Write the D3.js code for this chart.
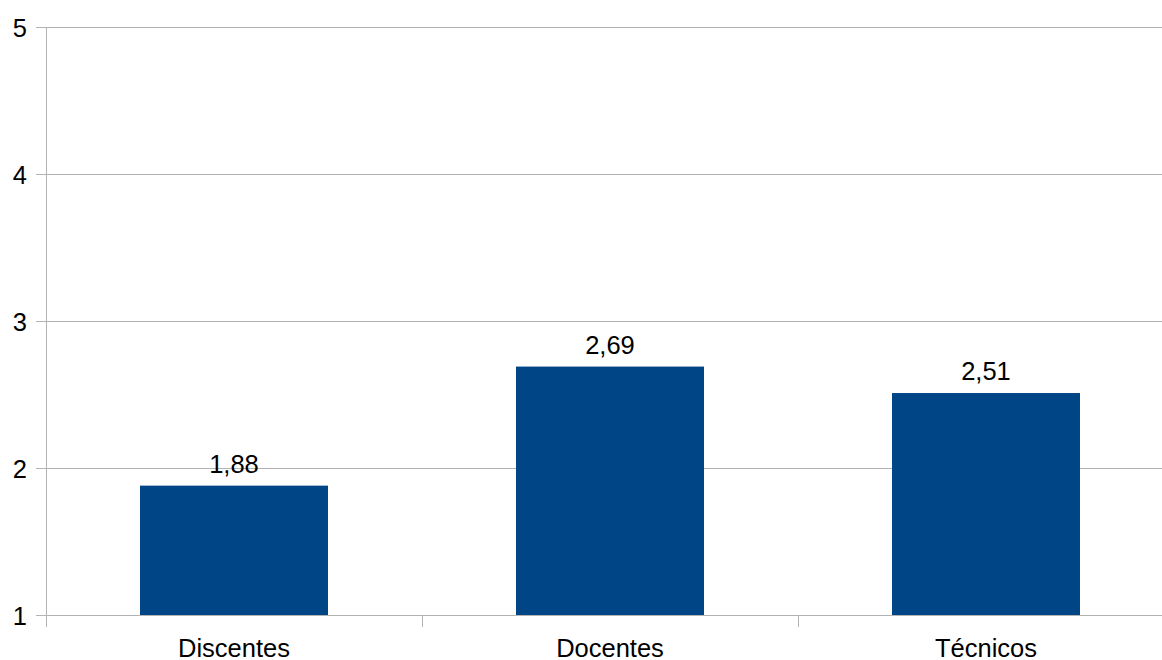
<!DOCTYPE html>
<html>
<head>
<meta charset="utf-8">
<script src="https://cdn.jsdelivr.net/npm/d3@7"></script>
<style>
  html, body { margin: 0; padding: 0; background: #fff; }
  svg { display: block; font-family: "Liberation Sans", Arial, sans-serif; }
</style>
</head>
<body>
<svg id="chart" width="1162" height="660"></svg>
<script>
// Mean score per group
const categories = ["Discentes", "Docentes", "Técnicos"];
const values = [1.88, 2.69, 2.51];
const yTicks = [1, 2, 3, 4, 5];

const svg = d3.select("#chart");
const plotLeft = 46, plotRight = 1174, plotTop = 27, plotBottom = 615;
const fontSize = 25.5;

const x = d3.scaleBand().domain(categories).range([plotLeft, plotRight]).paddingInner(0).paddingOuter(0);
const y = d3.scaleLinear().domain([1, 5]).range([plotBottom, plotTop]);

const fmt = v => d3.format(".2f")(v).replace(".", ",");

// Horizontal gridlines with short outer ticks
svg.append("g")
  .selectAll("line")
  .data(yTicks)
  .join("line")
  .attr("x1", plotLeft - 10)
  .attr("x2", 1162)
  .attr("y1", d => Math.round(y(d)) + 0.5)
  .attr("y2", d => Math.round(y(d)) + 0.5)
  .attr("stroke", "#b3b3b3")
  .attr("stroke-width", 1);

// Bars
const bw = x.bandwidth() * 0.5;
svg.append("g")
  .selectAll("rect")
  .data(categories)
  .join("rect")
  .attr("x", d => x(d) + x.bandwidth() / 2 - bw / 2)
  .attr("width", bw)
  .attr("y", (d, i) => y(values[i]))
  .attr("height", (d, i) => y(1) - y(values[i]))
  .attr("fill", "#004586");

// Vertical axis line
svg.append("line")
  .attr("x1", plotLeft + 0.5).attr("x2", plotLeft + 0.5)
  .attr("y1", plotTop).attr("y2", plotBottom + 12)
  .attr("stroke", "#b3b3b3");

// Category boundary ticks on the x axis
svg.append("g")
  .selectAll("line")
  .data(categories.slice(1))
  .join("line")
  .attr("x1", d => Math.round(x(d)) + 0.5)
  .attr("x2", d => Math.round(x(d)) + 0.5)
  .attr("y1", plotBottom)
  .attr("y2", plotBottom + 12)
  .attr("stroke", "#b3b3b3");

// Y tick labels
svg.append("g")
  .selectAll("text")
  .data(yTicks)
  .join("text")
  .attr("x", 27)
  .attr("y", d => y(d) + 9.5)
  .attr("text-anchor", "end")
  .attr("font-size", fontSize)
  .attr("fill", "#000")
  .text(d => d);

// Category labels
svg.append("g")
  .selectAll("text")
  .data(categories)
  .join("text")
  .attr("x", d => x(d) + x.bandwidth() / 2)
  .attr("y", 657)
  .attr("text-anchor", "middle")
  .attr("font-size", fontSize)
  .attr("fill", "#000")
  .text(d => d);

// Value labels above bars
svg.append("g")
  .selectAll("text")
  .data(categories)
  .join("text")
  .attr("x", d => x(d) + x.bandwidth() / 2)
  .attr("y", (d, i) => y(values[i]) - 13)
  .attr("text-anchor", "middle")
  .attr("font-size", fontSize)
  .attr("fill", "#000")
  .text((d, i) => fmt(values[i]));
</script>
</body>
</html>
